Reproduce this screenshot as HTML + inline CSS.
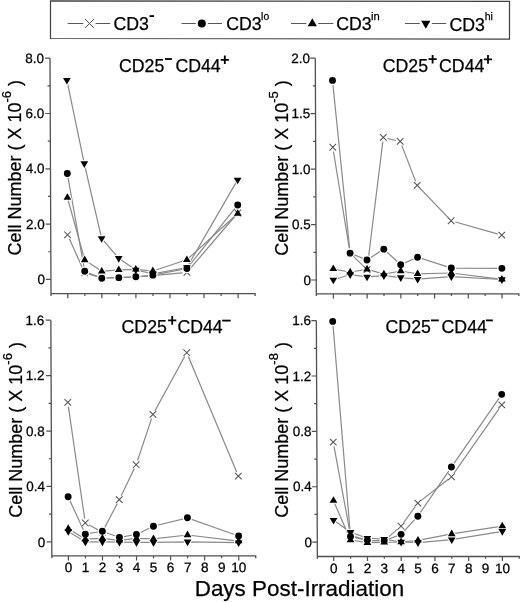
<!DOCTYPE html><html><head><meta charset="utf-8"><style>html,body{margin:0;padding:0;background:#fff;}svg{display:block;will-change:transform;}text{font-family:"Liberation Sans", sans-serif;fill:#000;stroke:#000;stroke-width:0.25px;}</style></head><body>
<svg width="520" height="602" viewBox="0 0 520 602">
<rect width="520" height="602" fill="#fff"/>
<path d="M50.5,0.9 L509.5,1.4 L509.5,39.1 L50.5,38.5 Z" fill="none" stroke="#404040" stroke-width="1.2"/>
<path d="M67.7,23.5 H83.50 M95.50,23.5 H110.2" stroke="#5a5a5a" stroke-width="1.1" fill="none"/>
<circle cx="89.50" cy="23.50" r="5.81" fill="#fff"/><path d="M85.14,19.14 L93.86,27.86 M93.86,19.14 L85.14,27.86" stroke="#505050" stroke-width="1.0" fill="none"/>
<text x="113.5" y="29.7" font-size="17.7" stroke="#000" stroke-width="0.3">CD3</text>
<rect x="149.5" y="15.200000000000001" width="4.6" height="1.8" fill="#000"/>
<path d="M181.5,23.5 H195.80 M207.80,23.5 H222.0" stroke="#5a5a5a" stroke-width="1.1" fill="none"/>
<circle cx="201.80" cy="23.50" r="4.04" fill="#fff" stroke="#fff" stroke-width="2.6"/><circle cx="201.80" cy="23.50" r="4.04" fill="#000"/>
<text x="226.2" y="30.0" font-size="17.7" stroke="#000" stroke-width="0.3">CD3</text>
<text x="261.1" y="19.8" font-size="11" textLength="8.0" lengthAdjust="spacingAndGlyphs" stroke="#000" stroke-width="0.2">lo</text>
<path d="M291.0,23.5 H306.30 M318.30,23.5 H333.3" stroke="#5a5a5a" stroke-width="1.1" fill="none"/>
<path d="M312.30,18.22 L316.92,26.14 L307.68,26.14 Z" fill="#fff" stroke="#fff" stroke-width="2.0" stroke-linejoin="round"/><path d="M312.30,18.22 L316.92,26.14 L307.68,26.14 Z" fill="#000"/>
<text x="336.2" y="30.2" font-size="17.7" stroke="#000" stroke-width="0.3">CD3</text>
<text x="371.0" y="20.0" font-size="11" textLength="8.7" lengthAdjust="spacingAndGlyphs" stroke="#000" stroke-width="0.2">in</text>
<path d="M405.0,23.5 H419.80 M431.80,23.5 H446.2" stroke="#5a5a5a" stroke-width="1.1" fill="none"/>
<path d="M421.18,20.86 L430.42,20.86 L425.80,28.78 Z" fill="#fff" stroke="#fff" stroke-width="2.0" stroke-linejoin="round"/><path d="M421.18,20.86 L430.42,20.86 L425.80,28.78 Z" fill="#000"/>
<text x="449.5" y="30.5" font-size="17.7" stroke="#000" stroke-width="0.3">CD3</text>
<text x="484.7" y="20.2" font-size="11" textLength="8.2" lengthAdjust="spacingAndGlyphs" stroke="#000" stroke-width="0.2">hi</text>
<g transform="translate(-0.745,0) skewX(0.2428)">
<path d="M50.5,58.2 V295.90000000000003 M49.9,293.6 H254.63 V295.90000000000003" stroke="#505050" stroke-width="1.3" fill="none"/>
<line x1="45.5" y1="279.40" x2="50.5" y2="279.40" stroke="#505050" stroke-width="1.2"/>
<text x="44.60" y="284.10" font-size="13.5" text-anchor="end">0</text>
<line x1="47.9" y1="251.75" x2="50.5" y2="251.75" stroke="#505050" stroke-width="1.2"/>
<line x1="45.5" y1="224.10" x2="50.5" y2="224.10" stroke="#505050" stroke-width="1.2"/>
<text x="44.60" y="228.80" font-size="13.5" text-anchor="end">2.0</text>
<line x1="47.9" y1="196.45" x2="50.5" y2="196.45" stroke="#505050" stroke-width="1.2"/>
<line x1="45.5" y1="168.80" x2="50.5" y2="168.80" stroke="#505050" stroke-width="1.2"/>
<text x="44.60" y="173.50" font-size="13.5" text-anchor="end">4.0</text>
<line x1="47.9" y1="141.15" x2="50.5" y2="141.15" stroke="#505050" stroke-width="1.2"/>
<line x1="45.5" y1="113.50" x2="50.5" y2="113.50" stroke="#505050" stroke-width="1.2"/>
<text x="44.60" y="118.20" font-size="13.5" text-anchor="end">6.0</text>
<line x1="47.9" y1="85.85" x2="50.5" y2="85.85" stroke="#505050" stroke-width="1.2"/>
<line x1="45.5" y1="58.20" x2="50.5" y2="58.20" stroke="#505050" stroke-width="1.2"/>
<text x="44.60" y="62.90" font-size="13.5" text-anchor="end">8.0</text>
<line x1="67.30" y1="293.6" x2="67.30" y2="298.20000000000005" stroke="#505050" stroke-width="1.2"/>
<line x1="84.33" y1="293.6" x2="84.33" y2="295.90000000000003" stroke="#505050" stroke-width="1.2"/>
<line x1="101.36" y1="293.6" x2="101.36" y2="298.20000000000005" stroke="#505050" stroke-width="1.2"/>
<line x1="118.39" y1="293.6" x2="118.39" y2="295.90000000000003" stroke="#505050" stroke-width="1.2"/>
<line x1="135.42" y1="293.6" x2="135.42" y2="298.20000000000005" stroke="#505050" stroke-width="1.2"/>
<line x1="152.45" y1="293.6" x2="152.45" y2="295.90000000000003" stroke="#505050" stroke-width="1.2"/>
<line x1="169.48" y1="293.6" x2="169.48" y2="298.20000000000005" stroke="#505050" stroke-width="1.2"/>
<line x1="186.51" y1="293.6" x2="186.51" y2="295.90000000000003" stroke="#505050" stroke-width="1.2"/>
<line x1="203.54" y1="293.6" x2="203.54" y2="298.20000000000005" stroke="#505050" stroke-width="1.2"/>
<line x1="220.57" y1="293.6" x2="220.57" y2="295.90000000000003" stroke="#505050" stroke-width="1.2"/>
<line x1="237.60" y1="293.6" x2="237.60" y2="298.20000000000005" stroke="#505050" stroke-width="1.2"/>
<polyline points="67.30,234.82 84.33,272.95 101.36,277.92 118.39,277.64 135.42,276.81 152.45,275.71 186.51,272.39 237.60,213.00" fill="none" stroke="#8a8a8a" stroke-width="1.2"/>
<polyline points="67.30,173.50 84.33,271.29 101.36,278.19 118.39,277.64 135.42,276.81 152.45,275.16 186.51,268.53 237.60,204.99" fill="none" stroke="#8a8a8a" stroke-width="1.2"/>
<polyline points="67.30,197.53 84.33,259.96 101.36,271.29 118.39,269.91 135.42,269.36 152.45,271.01 186.51,259.80 237.60,213.55" fill="none" stroke="#8a8a8a" stroke-width="1.2"/>
<polyline points="67.30,80.12 84.33,163.55 101.36,238.42 118.39,258.31 135.42,269.91 152.45,273.78 186.51,267.50 237.60,179.85" fill="none" stroke="#8a8a8a" stroke-width="1.2"/>
<circle cx="67.30" cy="234.82" r="4.40" fill="#fff"/>
<circle cx="84.33" cy="272.95" r="4.40" fill="#fff"/>
<circle cx="101.36" cy="277.92" r="4.40" fill="#fff"/>
<circle cx="118.39" cy="277.64" r="4.40" fill="#fff"/>
<circle cx="135.42" cy="276.81" r="4.40" fill="#fff"/>
<circle cx="152.45" cy="275.71" r="4.40" fill="#fff"/>
<circle cx="186.51" cy="272.39" r="4.40" fill="#fff"/>
<circle cx="237.60" cy="213.00" r="4.40" fill="#fff"/>
<path d="M67.30,193.13 L71.15,199.73 L63.45,199.73 Z" fill="#fff" stroke="#fff" stroke-width="2.0" stroke-linejoin="round"/>
<path d="M84.33,255.56 L88.18,262.16 L80.48,262.16 Z" fill="#fff" stroke="#fff" stroke-width="2.0" stroke-linejoin="round"/>
<path d="M101.36,266.89 L105.21,273.49 L97.51,273.49 Z" fill="#fff" stroke="#fff" stroke-width="2.0" stroke-linejoin="round"/>
<path d="M118.39,265.51 L122.24,272.11 L114.54,272.11 Z" fill="#fff" stroke="#fff" stroke-width="2.0" stroke-linejoin="round"/>
<path d="M135.42,264.96 L139.27,271.56 L131.57,271.56 Z" fill="#fff" stroke="#fff" stroke-width="2.0" stroke-linejoin="round"/>
<path d="M152.45,266.61 L156.30,273.21 L148.60,273.21 Z" fill="#fff" stroke="#fff" stroke-width="2.0" stroke-linejoin="round"/>
<path d="M186.51,255.40 L190.36,262.00 L182.66,262.00 Z" fill="#fff" stroke="#fff" stroke-width="2.0" stroke-linejoin="round"/>
<path d="M237.60,209.15 L241.45,215.75 L233.75,215.75 Z" fill="#fff" stroke="#fff" stroke-width="2.0" stroke-linejoin="round"/>
<path d="M63.45,77.92 L71.15,77.92 L67.30,84.52 Z" fill="#fff" stroke="#fff" stroke-width="2.0" stroke-linejoin="round"/>
<path d="M80.48,161.35 L88.18,161.35 L84.33,167.95 Z" fill="#fff" stroke="#fff" stroke-width="2.0" stroke-linejoin="round"/>
<path d="M97.51,236.22 L105.21,236.22 L101.36,242.82 Z" fill="#fff" stroke="#fff" stroke-width="2.0" stroke-linejoin="round"/>
<path d="M114.54,256.11 L122.24,256.11 L118.39,262.70 Z" fill="#fff" stroke="#fff" stroke-width="2.0" stroke-linejoin="round"/>
<path d="M131.57,267.71 L139.27,267.71 L135.42,274.31 Z" fill="#fff" stroke="#fff" stroke-width="2.0" stroke-linejoin="round"/>
<path d="M148.60,271.58 L156.30,271.58 L152.45,278.18 Z" fill="#fff" stroke="#fff" stroke-width="2.0" stroke-linejoin="round"/>
<path d="M182.66,265.30 L190.36,265.30 L186.51,271.90 Z" fill="#fff" stroke="#fff" stroke-width="2.0" stroke-linejoin="round"/>
<path d="M233.75,177.65 L241.45,177.65 L237.60,184.25 Z" fill="#fff" stroke="#fff" stroke-width="2.0" stroke-linejoin="round"/>
<path d="M64.00,231.52 L70.60,238.12 M70.60,231.52 L64.00,238.12" stroke="#505050" stroke-width="1.0" fill="none"/>
<path d="M81.03,269.65 L87.63,276.25 M87.63,269.65 L81.03,276.25" stroke="#505050" stroke-width="1.0" fill="none"/>
<path d="M98.06,274.62 L104.66,281.22 M104.66,274.62 L98.06,281.22" stroke="#505050" stroke-width="1.0" fill="none"/>
<path d="M115.09,274.34 L121.69,280.94 M121.69,274.34 L115.09,280.94" stroke="#505050" stroke-width="1.0" fill="none"/>
<path d="M132.12,273.51 L138.72,280.11 M138.72,273.51 L132.12,280.11" stroke="#505050" stroke-width="1.0" fill="none"/>
<path d="M149.15,272.41 L155.75,279.01 M155.75,272.41 L149.15,279.01" stroke="#505050" stroke-width="1.0" fill="none"/>
<path d="M183.21,269.09 L189.81,275.69 M189.81,269.09 L183.21,275.69" stroke="#505050" stroke-width="1.0" fill="none"/>
<path d="M234.30,209.70 L240.90,216.30 M240.90,209.70 L234.30,216.30" stroke="#505050" stroke-width="1.0" fill="none"/>
<circle cx="67.30" cy="173.50" r="3.45" fill="#fff" stroke="#fff" stroke-width="2.6"/>
<circle cx="84.33" cy="271.29" r="3.45" fill="#fff" stroke="#fff" stroke-width="2.6"/>
<circle cx="101.36" cy="278.19" r="3.45" fill="#fff" stroke="#fff" stroke-width="2.6"/>
<circle cx="118.39" cy="277.64" r="3.45" fill="#fff" stroke="#fff" stroke-width="2.6"/>
<circle cx="135.42" cy="276.81" r="3.45" fill="#fff" stroke="#fff" stroke-width="2.6"/>
<circle cx="152.45" cy="275.16" r="3.45" fill="#fff" stroke="#fff" stroke-width="2.6"/>
<circle cx="186.51" cy="268.53" r="3.45" fill="#fff" stroke="#fff" stroke-width="2.6"/>
<circle cx="237.60" cy="204.99" r="3.45" fill="#fff" stroke="#fff" stroke-width="2.6"/>
<circle cx="67.30" cy="173.50" r="3.45" fill="#000"/>
<circle cx="84.33" cy="271.29" r="3.45" fill="#000"/>
<circle cx="101.36" cy="278.19" r="3.45" fill="#000"/>
<circle cx="118.39" cy="277.64" r="3.45" fill="#000"/>
<circle cx="135.42" cy="276.81" r="3.45" fill="#000"/>
<circle cx="152.45" cy="275.16" r="3.45" fill="#000"/>
<circle cx="186.51" cy="268.53" r="3.45" fill="#000"/>
<circle cx="237.60" cy="204.99" r="3.45" fill="#000"/>
<path d="M67.30,193.13 L71.15,199.73 L63.45,199.73 Z" fill="#000"/>
<path d="M84.33,255.56 L88.18,262.16 L80.48,262.16 Z" fill="#000"/>
<path d="M101.36,266.89 L105.21,273.49 L97.51,273.49 Z" fill="#000"/>
<path d="M118.39,265.51 L122.24,272.11 L114.54,272.11 Z" fill="#000"/>
<path d="M135.42,264.96 L139.27,271.56 L131.57,271.56 Z" fill="#000"/>
<path d="M152.45,266.61 L156.30,273.21 L148.60,273.21 Z" fill="#000"/>
<path d="M186.51,255.40 L190.36,262.00 L182.66,262.00 Z" fill="#000"/>
<path d="M237.60,209.15 L241.45,215.75 L233.75,215.75 Z" fill="#000"/>
<path d="M63.45,77.92 L71.15,77.92 L67.30,84.52 Z" fill="#000"/>
<path d="M80.48,161.35 L88.18,161.35 L84.33,167.95 Z" fill="#000"/>
<path d="M97.51,236.22 L105.21,236.22 L101.36,242.82 Z" fill="#000"/>
<path d="M114.54,256.11 L122.24,256.11 L118.39,262.70 Z" fill="#000"/>
<path d="M131.57,267.71 L139.27,267.71 L135.42,274.31 Z" fill="#000"/>
<path d="M148.60,271.58 L156.30,271.58 L152.45,278.18 Z" fill="#000"/>
<path d="M182.66,265.30 L190.36,265.30 L186.51,271.90 Z" fill="#000"/>
<path d="M233.75,177.65 L241.45,177.65 L237.60,184.25 Z" fill="#000"/>
</g>
<text x="119.00" y="71.9" font-size="17.7">CD25</text>
<rect x="165.0" y="58.10" width="6.90" height="1.8" fill="#000"/>
<text x="175.40" y="71.9" font-size="17.7">CD44</text>
<path d="M220.70,59.80 H228.90 M224.80,55.50 V64.10" stroke="#000" stroke-width="1.8" fill="none"/>
<text transform="translate(21.2,255.6) rotate(-90)" font-size="18">Cell Number ( X 10<tspan font-size="13" dy="-10.3">-6</tspan><tspan dy="10.3"> )</tspan></text>
<g transform="translate(-0.746,0) skewX(0.2428)">
<path d="M315.8,58.2 V296.1 M315.2,293.8 H518.3599999999999 V296.1" stroke="#505050" stroke-width="1.3" fill="none"/>
<line x1="310.8" y1="280.00" x2="315.8" y2="280.00" stroke="#505050" stroke-width="1.2"/>
<text x="310.50" y="284.70" font-size="13.5" text-anchor="end">0</text>
<line x1="313.2" y1="252.28" x2="315.8" y2="252.28" stroke="#505050" stroke-width="1.2"/>
<line x1="310.8" y1="224.55" x2="315.8" y2="224.55" stroke="#505050" stroke-width="1.2"/>
<text x="310.50" y="229.25" font-size="13.5" text-anchor="end">0.5</text>
<line x1="313.2" y1="196.83" x2="315.8" y2="196.83" stroke="#505050" stroke-width="1.2"/>
<line x1="310.8" y1="169.10" x2="315.8" y2="169.10" stroke="#505050" stroke-width="1.2"/>
<text x="310.50" y="173.80" font-size="13.5" text-anchor="end">1.0</text>
<line x1="313.2" y1="141.38" x2="315.8" y2="141.38" stroke="#505050" stroke-width="1.2"/>
<line x1="310.8" y1="113.65" x2="315.8" y2="113.65" stroke="#505050" stroke-width="1.2"/>
<text x="310.50" y="118.35" font-size="13.5" text-anchor="end">1.5</text>
<line x1="313.2" y1="85.92" x2="315.8" y2="85.92" stroke="#505050" stroke-width="1.2"/>
<line x1="310.8" y1="58.20" x2="315.8" y2="58.20" stroke="#505050" stroke-width="1.2"/>
<text x="310.50" y="62.90" font-size="13.5" text-anchor="end">2.0</text>
<line x1="332.90" y1="293.8" x2="332.90" y2="298.40000000000003" stroke="#505050" stroke-width="1.2"/>
<line x1="349.76" y1="293.8" x2="349.76" y2="296.1" stroke="#505050" stroke-width="1.2"/>
<line x1="366.62" y1="293.8" x2="366.62" y2="298.40000000000003" stroke="#505050" stroke-width="1.2"/>
<line x1="383.48" y1="293.8" x2="383.48" y2="296.1" stroke="#505050" stroke-width="1.2"/>
<line x1="400.34" y1="293.8" x2="400.34" y2="298.40000000000003" stroke="#505050" stroke-width="1.2"/>
<line x1="417.20" y1="293.8" x2="417.20" y2="296.1" stroke="#505050" stroke-width="1.2"/>
<line x1="434.06" y1="293.8" x2="434.06" y2="298.40000000000003" stroke="#505050" stroke-width="1.2"/>
<line x1="450.92" y1="293.8" x2="450.92" y2="296.1" stroke="#505050" stroke-width="1.2"/>
<line x1="467.78" y1="293.8" x2="467.78" y2="298.40000000000003" stroke="#505050" stroke-width="1.2"/>
<line x1="484.64" y1="293.8" x2="484.64" y2="296.1" stroke="#505050" stroke-width="1.2"/>
<line x1="501.50" y1="293.8" x2="501.50" y2="298.40000000000003" stroke="#505050" stroke-width="1.2"/>
<polyline points="332.90,147.25 349.76,253.11 366.62,269.58 383.48,137.42 400.34,141.40 417.20,185.38 450.92,220.74 501.50,235.10" fill="none" stroke="#8a8a8a" stroke-width="1.2"/>
<polyline points="332.90,80.40 349.76,253.11 366.62,259.96 383.48,249.13 400.34,264.71 417.20,257.20 450.92,268.03 501.50,268.36" fill="none" stroke="#8a8a8a" stroke-width="1.2"/>
<polyline points="332.90,268.91 349.76,272.23 366.62,269.24 383.48,274.11 400.34,271.01 417.20,273.78 450.92,273.00 501.50,279.30" fill="none" stroke="#8a8a8a" stroke-width="1.2"/>
<polyline points="332.90,279.96 349.76,274.55 366.62,276.87 383.48,275.54 400.34,277.53 417.20,279.19 450.92,276.65 501.50,279.52" fill="none" stroke="#8a8a8a" stroke-width="1.2"/>
<circle cx="332.90" cy="147.25" r="4.40" fill="#fff"/>
<circle cx="349.76" cy="253.11" r="4.40" fill="#fff"/>
<circle cx="366.62" cy="269.58" r="4.40" fill="#fff"/>
<circle cx="383.48" cy="137.42" r="4.40" fill="#fff"/>
<circle cx="400.34" cy="141.40" r="4.40" fill="#fff"/>
<circle cx="417.20" cy="185.38" r="4.40" fill="#fff"/>
<circle cx="450.92" cy="220.74" r="4.40" fill="#fff"/>
<circle cx="501.50" cy="235.10" r="4.40" fill="#fff"/>
<path d="M332.90,264.51 L336.75,271.11 L329.05,271.11 Z" fill="#fff" stroke="#fff" stroke-width="2.0" stroke-linejoin="round"/>
<path d="M349.76,267.83 L353.61,274.43 L345.91,274.43 Z" fill="#fff" stroke="#fff" stroke-width="2.0" stroke-linejoin="round"/>
<path d="M366.62,264.84 L370.47,271.44 L362.77,271.44 Z" fill="#fff" stroke="#fff" stroke-width="2.0" stroke-linejoin="round"/>
<path d="M383.48,269.71 L387.33,276.31 L379.63,276.31 Z" fill="#fff" stroke="#fff" stroke-width="2.0" stroke-linejoin="round"/>
<path d="M400.34,266.61 L404.19,273.21 L396.49,273.21 Z" fill="#fff" stroke="#fff" stroke-width="2.0" stroke-linejoin="round"/>
<path d="M417.20,269.38 L421.05,275.98 L413.35,275.98 Z" fill="#fff" stroke="#fff" stroke-width="2.0" stroke-linejoin="round"/>
<path d="M450.92,268.60 L454.77,275.20 L447.07,275.20 Z" fill="#fff" stroke="#fff" stroke-width="2.0" stroke-linejoin="round"/>
<path d="M501.50,274.90 L505.35,281.50 L497.65,281.50 Z" fill="#fff" stroke="#fff" stroke-width="2.0" stroke-linejoin="round"/>
<path d="M329.05,277.76 L336.75,277.76 L332.90,284.36 Z" fill="#fff" stroke="#fff" stroke-width="2.0" stroke-linejoin="round"/>
<path d="M345.91,272.35 L353.61,272.35 L349.76,278.95 Z" fill="#fff" stroke="#fff" stroke-width="2.0" stroke-linejoin="round"/>
<path d="M362.77,274.67 L370.47,274.67 L366.62,281.27 Z" fill="#fff" stroke="#fff" stroke-width="2.0" stroke-linejoin="round"/>
<path d="M379.63,273.34 L387.33,273.34 L383.48,279.94 Z" fill="#fff" stroke="#fff" stroke-width="2.0" stroke-linejoin="round"/>
<path d="M396.49,275.33 L404.19,275.33 L400.34,281.93 Z" fill="#fff" stroke="#fff" stroke-width="2.0" stroke-linejoin="round"/>
<path d="M413.35,276.99 L421.05,276.99 L417.20,283.59 Z" fill="#fff" stroke="#fff" stroke-width="2.0" stroke-linejoin="round"/>
<path d="M447.07,274.45 L454.77,274.45 L450.92,281.05 Z" fill="#fff" stroke="#fff" stroke-width="2.0" stroke-linejoin="round"/>
<path d="M497.65,277.32 L505.35,277.32 L501.50,283.92 Z" fill="#fff" stroke="#fff" stroke-width="2.0" stroke-linejoin="round"/>
<path d="M329.60,143.95 L336.20,150.55 M336.20,143.95 L329.60,150.55" stroke="#505050" stroke-width="1.0" fill="none"/>
<path d="M346.46,249.81 L353.06,256.41 M353.06,249.81 L346.46,256.41" stroke="#505050" stroke-width="1.0" fill="none"/>
<path d="M363.32,266.28 L369.92,272.88 M369.92,266.28 L363.32,272.88" stroke="#505050" stroke-width="1.0" fill="none"/>
<path d="M380.18,134.12 L386.78,140.72 M386.78,134.12 L380.18,140.72" stroke="#505050" stroke-width="1.0" fill="none"/>
<path d="M397.04,138.10 L403.64,144.70 M403.64,138.10 L397.04,144.70" stroke="#505050" stroke-width="1.0" fill="none"/>
<path d="M413.90,182.07 L420.50,188.68 M420.50,182.07 L413.90,188.68" stroke="#505050" stroke-width="1.0" fill="none"/>
<path d="M447.62,217.44 L454.22,224.04 M454.22,217.44 L447.62,224.04" stroke="#505050" stroke-width="1.0" fill="none"/>
<path d="M498.20,231.80 L504.80,238.40 M504.80,231.80 L498.20,238.40" stroke="#505050" stroke-width="1.0" fill="none"/>
<circle cx="332.90" cy="80.40" r="3.45" fill="#fff" stroke="#fff" stroke-width="2.6"/>
<circle cx="349.76" cy="253.11" r="3.45" fill="#fff" stroke="#fff" stroke-width="2.6"/>
<circle cx="366.62" cy="259.96" r="3.45" fill="#fff" stroke="#fff" stroke-width="2.6"/>
<circle cx="383.48" cy="249.13" r="3.45" fill="#fff" stroke="#fff" stroke-width="2.6"/>
<circle cx="400.34" cy="264.71" r="3.45" fill="#fff" stroke="#fff" stroke-width="2.6"/>
<circle cx="417.20" cy="257.20" r="3.45" fill="#fff" stroke="#fff" stroke-width="2.6"/>
<circle cx="450.92" cy="268.03" r="3.45" fill="#fff" stroke="#fff" stroke-width="2.6"/>
<circle cx="501.50" cy="268.36" r="3.45" fill="#fff" stroke="#fff" stroke-width="2.6"/>
<circle cx="332.90" cy="80.40" r="3.45" fill="#000"/>
<circle cx="349.76" cy="253.11" r="3.45" fill="#000"/>
<circle cx="366.62" cy="259.96" r="3.45" fill="#000"/>
<circle cx="383.48" cy="249.13" r="3.45" fill="#000"/>
<circle cx="400.34" cy="264.71" r="3.45" fill="#000"/>
<circle cx="417.20" cy="257.20" r="3.45" fill="#000"/>
<circle cx="450.92" cy="268.03" r="3.45" fill="#000"/>
<circle cx="501.50" cy="268.36" r="3.45" fill="#000"/>
<path d="M332.90,264.51 L336.75,271.11 L329.05,271.11 Z" fill="#000"/>
<path d="M349.76,267.83 L353.61,274.43 L345.91,274.43 Z" fill="#000"/>
<path d="M366.62,264.84 L370.47,271.44 L362.77,271.44 Z" fill="#000"/>
<path d="M383.48,269.71 L387.33,276.31 L379.63,276.31 Z" fill="#000"/>
<path d="M400.34,266.61 L404.19,273.21 L396.49,273.21 Z" fill="#000"/>
<path d="M417.20,269.38 L421.05,275.98 L413.35,275.98 Z" fill="#000"/>
<path d="M450.92,268.60 L454.77,275.20 L447.07,275.20 Z" fill="#000"/>
<path d="M501.50,274.90 L505.35,281.50 L497.65,281.50 Z" fill="#000"/>
<path d="M329.05,277.76 L336.75,277.76 L332.90,284.36 Z" fill="#000"/>
<path d="M345.91,272.35 L353.61,272.35 L349.76,278.95 Z" fill="#000"/>
<path d="M362.77,274.67 L370.47,274.67 L366.62,281.27 Z" fill="#000"/>
<path d="M379.63,273.34 L387.33,273.34 L383.48,279.94 Z" fill="#000"/>
<path d="M396.49,275.33 L404.19,275.33 L400.34,281.93 Z" fill="#000"/>
<path d="M413.35,276.99 L421.05,276.99 L417.20,283.59 Z" fill="#000"/>
<path d="M447.07,274.45 L454.77,274.45 L450.92,281.05 Z" fill="#000"/>
<path d="M497.65,277.32 L505.35,277.32 L501.50,283.92 Z" fill="#000"/>
</g>
<text x="382.80" y="72.0" font-size="17.7">CD25</text>
<path d="M428.50,59.20 H436.70 M432.60,54.90 V63.50" stroke="#000" stroke-width="1.8" fill="none"/>
<text x="439.10" y="72.0" font-size="17.7">CD44</text>
<path d="M483.90,59.40 H492.10 M488.00,55.10 V63.70" stroke="#000" stroke-width="1.8" fill="none"/>
<text transform="translate(287.9,255.8) rotate(-90)" font-size="18">Cell Number ( X 10<tspan font-size="13" dy="-10.3">-5</tspan><tspan dy="10.3"> )</tspan></text>
<g transform="translate(-1.856,0) skewX(0.2428)">
<path d="M51.35,320.2 V558.1999999999999 M50.75,555.9 H255.23000000000002 V558.1999999999999" stroke="#505050" stroke-width="1.3" fill="none"/>
<line x1="46.35" y1="541.90" x2="51.35" y2="541.90" stroke="#505050" stroke-width="1.2"/>
<text x="44.85" y="546.60" font-size="13.5" text-anchor="end">0</text>
<line x1="48.75" y1="514.19" x2="51.35" y2="514.19" stroke="#505050" stroke-width="1.2"/>
<line x1="46.35" y1="486.47" x2="51.35" y2="486.47" stroke="#505050" stroke-width="1.2"/>
<text x="44.85" y="491.17" font-size="13.5" text-anchor="end">0.4</text>
<line x1="48.75" y1="458.76" x2="51.35" y2="458.76" stroke="#505050" stroke-width="1.2"/>
<line x1="46.35" y1="431.05" x2="51.35" y2="431.05" stroke="#505050" stroke-width="1.2"/>
<text x="44.85" y="435.75" font-size="13.5" text-anchor="end">0.8</text>
<line x1="48.75" y1="403.34" x2="51.35" y2="403.34" stroke="#505050" stroke-width="1.2"/>
<line x1="46.35" y1="375.62" x2="51.35" y2="375.62" stroke="#505050" stroke-width="1.2"/>
<text x="44.85" y="380.32" font-size="13.5" text-anchor="end">1.2</text>
<line x1="48.75" y1="347.91" x2="51.35" y2="347.91" stroke="#505050" stroke-width="1.2"/>
<line x1="46.35" y1="320.20" x2="51.35" y2="320.20" stroke="#505050" stroke-width="1.2"/>
<text x="44.85" y="324.90" font-size="13.5" text-anchor="end">1.6</text>
<line x1="67.90" y1="555.9" x2="67.90" y2="560.5" stroke="#505050" stroke-width="1.2"/>
<text x="67.90" y="572.1" font-size="13.6" text-anchor="middle">0</text>
<line x1="84.93" y1="555.9" x2="84.93" y2="558.1999999999999" stroke="#505050" stroke-width="1.2"/>
<text x="84.93" y="572.1" font-size="13.6" text-anchor="middle">1</text>
<line x1="101.96" y1="555.9" x2="101.96" y2="560.5" stroke="#505050" stroke-width="1.2"/>
<text x="101.96" y="572.1" font-size="13.6" text-anchor="middle">2</text>
<line x1="118.99" y1="555.9" x2="118.99" y2="558.1999999999999" stroke="#505050" stroke-width="1.2"/>
<text x="118.99" y="572.1" font-size="13.6" text-anchor="middle">3</text>
<line x1="136.02" y1="555.9" x2="136.02" y2="560.5" stroke="#505050" stroke-width="1.2"/>
<text x="136.02" y="572.1" font-size="13.6" text-anchor="middle">4</text>
<line x1="153.05" y1="555.9" x2="153.05" y2="558.1999999999999" stroke="#505050" stroke-width="1.2"/>
<text x="153.05" y="572.1" font-size="13.6" text-anchor="middle">5</text>
<line x1="170.08" y1="555.9" x2="170.08" y2="560.5" stroke="#505050" stroke-width="1.2"/>
<text x="170.08" y="572.1" font-size="13.6" text-anchor="middle">6</text>
<line x1="187.11" y1="555.9" x2="187.11" y2="558.1999999999999" stroke="#505050" stroke-width="1.2"/>
<text x="187.11" y="572.1" font-size="13.6" text-anchor="middle">7</text>
<line x1="204.14" y1="555.9" x2="204.14" y2="560.5" stroke="#505050" stroke-width="1.2"/>
<text x="204.14" y="572.1" font-size="13.6" text-anchor="middle">8</text>
<line x1="221.17" y1="555.9" x2="221.17" y2="558.1999999999999" stroke="#505050" stroke-width="1.2"/>
<text x="221.17" y="572.1" font-size="13.6" text-anchor="middle">9</text>
<line x1="238.20" y1="555.9" x2="238.20" y2="560.5" stroke="#505050" stroke-width="1.2"/>
<text x="238.20" y="572.1" font-size="13.6" text-anchor="middle">10</text>
<polyline points="67.90,402.34 84.93,522.95 101.96,532.10 118.99,499.66 136.02,464.72 153.05,414.40 187.11,352.72 238.20,476.09" fill="none" stroke="#8a8a8a" stroke-width="1.2"/>
<polyline points="67.90,496.75 84.93,534.18 101.96,531.26 118.99,537.50 136.02,534.45 153.05,526.27 187.11,517.82 238.20,535.98" fill="none" stroke="#8a8a8a" stroke-width="1.2"/>
<polyline points="67.90,528.77 84.93,539.03 101.96,538.33 118.99,540.41 136.02,538.47 153.05,538.89 187.11,535.01 238.20,541.11" fill="none" stroke="#8a8a8a" stroke-width="1.2"/>
<polyline points="67.90,531.40 84.93,541.94 101.96,541.80 118.99,542.08 136.02,542.35 153.05,542.35 187.11,541.80 238.20,542.63" fill="none" stroke="#8a8a8a" stroke-width="1.2"/>
<circle cx="67.90" cy="402.34" r="4.40" fill="#fff"/>
<circle cx="84.93" cy="522.95" r="4.40" fill="#fff"/>
<circle cx="101.96" cy="532.10" r="4.40" fill="#fff"/>
<circle cx="118.99" cy="499.66" r="4.40" fill="#fff"/>
<circle cx="136.02" cy="464.72" r="4.40" fill="#fff"/>
<circle cx="153.05" cy="414.40" r="4.40" fill="#fff"/>
<circle cx="187.11" cy="352.72" r="4.40" fill="#fff"/>
<circle cx="238.20" cy="476.09" r="4.40" fill="#fff"/>
<path d="M67.90,524.37 L71.75,530.97 L64.05,530.97 Z" fill="#fff" stroke="#fff" stroke-width="2.0" stroke-linejoin="round"/>
<path d="M84.93,534.63 L88.78,541.23 L81.08,541.23 Z" fill="#fff" stroke="#fff" stroke-width="2.0" stroke-linejoin="round"/>
<path d="M101.96,533.93 L105.81,540.53 L98.11,540.53 Z" fill="#fff" stroke="#fff" stroke-width="2.0" stroke-linejoin="round"/>
<path d="M118.99,536.01 L122.84,542.61 L115.14,542.61 Z" fill="#fff" stroke="#fff" stroke-width="2.0" stroke-linejoin="round"/>
<path d="M136.02,534.07 L139.87,540.67 L132.17,540.67 Z" fill="#fff" stroke="#fff" stroke-width="2.0" stroke-linejoin="round"/>
<path d="M153.05,534.49 L156.90,541.09 L149.20,541.09 Z" fill="#fff" stroke="#fff" stroke-width="2.0" stroke-linejoin="round"/>
<path d="M187.11,530.61 L190.96,537.21 L183.26,537.21 Z" fill="#fff" stroke="#fff" stroke-width="2.0" stroke-linejoin="round"/>
<path d="M238.20,536.71 L242.05,543.31 L234.35,543.31 Z" fill="#fff" stroke="#fff" stroke-width="2.0" stroke-linejoin="round"/>
<path d="M64.05,529.20 L71.75,529.20 L67.90,535.80 Z" fill="#fff" stroke="#fff" stroke-width="2.0" stroke-linejoin="round"/>
<path d="M81.08,539.74 L88.78,539.74 L84.93,546.34 Z" fill="#fff" stroke="#fff" stroke-width="2.0" stroke-linejoin="round"/>
<path d="M98.11,539.60 L105.81,539.60 L101.96,546.20 Z" fill="#fff" stroke="#fff" stroke-width="2.0" stroke-linejoin="round"/>
<path d="M115.14,539.88 L122.84,539.88 L118.99,546.48 Z" fill="#fff" stroke="#fff" stroke-width="2.0" stroke-linejoin="round"/>
<path d="M132.17,540.15 L139.87,540.15 L136.02,546.75 Z" fill="#fff" stroke="#fff" stroke-width="2.0" stroke-linejoin="round"/>
<path d="M149.20,540.15 L156.90,540.15 L153.05,546.75 Z" fill="#fff" stroke="#fff" stroke-width="2.0" stroke-linejoin="round"/>
<path d="M183.26,539.60 L190.96,539.60 L187.11,546.20 Z" fill="#fff" stroke="#fff" stroke-width="2.0" stroke-linejoin="round"/>
<path d="M234.35,540.43 L242.05,540.43 L238.20,547.03 Z" fill="#fff" stroke="#fff" stroke-width="2.0" stroke-linejoin="round"/>
<path d="M64.60,399.04 L71.20,405.64 M71.20,399.04 L64.60,405.64" stroke="#505050" stroke-width="1.0" fill="none"/>
<path d="M81.63,519.65 L88.23,526.25 M88.23,519.65 L81.63,526.25" stroke="#505050" stroke-width="1.0" fill="none"/>
<path d="M98.66,528.80 L105.26,535.40 M105.26,528.80 L98.66,535.40" stroke="#505050" stroke-width="1.0" fill="none"/>
<path d="M115.69,496.36 L122.29,502.96 M122.29,496.36 L115.69,502.96" stroke="#505050" stroke-width="1.0" fill="none"/>
<path d="M132.72,461.42 L139.32,468.02 M139.32,461.42 L132.72,468.02" stroke="#505050" stroke-width="1.0" fill="none"/>
<path d="M149.75,411.10 L156.35,417.70 M156.35,411.10 L149.75,417.70" stroke="#505050" stroke-width="1.0" fill="none"/>
<path d="M183.81,349.42 L190.41,356.02 M190.41,349.42 L183.81,356.02" stroke="#505050" stroke-width="1.0" fill="none"/>
<path d="M234.90,472.79 L241.50,479.39 M241.50,472.79 L234.90,479.39" stroke="#505050" stroke-width="1.0" fill="none"/>
<circle cx="67.90" cy="496.75" r="3.45" fill="#fff" stroke="#fff" stroke-width="2.6"/>
<circle cx="84.93" cy="534.18" r="3.45" fill="#fff" stroke="#fff" stroke-width="2.6"/>
<circle cx="101.96" cy="531.26" r="3.45" fill="#fff" stroke="#fff" stroke-width="2.6"/>
<circle cx="118.99" cy="537.50" r="3.45" fill="#fff" stroke="#fff" stroke-width="2.6"/>
<circle cx="136.02" cy="534.45" r="3.45" fill="#fff" stroke="#fff" stroke-width="2.6"/>
<circle cx="153.05" cy="526.27" r="3.45" fill="#fff" stroke="#fff" stroke-width="2.6"/>
<circle cx="187.11" cy="517.82" r="3.45" fill="#fff" stroke="#fff" stroke-width="2.6"/>
<circle cx="238.20" cy="535.98" r="3.45" fill="#fff" stroke="#fff" stroke-width="2.6"/>
<circle cx="67.90" cy="496.75" r="3.45" fill="#000"/>
<circle cx="84.93" cy="534.18" r="3.45" fill="#000"/>
<circle cx="101.96" cy="531.26" r="3.45" fill="#000"/>
<circle cx="118.99" cy="537.50" r="3.45" fill="#000"/>
<circle cx="136.02" cy="534.45" r="3.45" fill="#000"/>
<circle cx="153.05" cy="526.27" r="3.45" fill="#000"/>
<circle cx="187.11" cy="517.82" r="3.45" fill="#000"/>
<circle cx="238.20" cy="535.98" r="3.45" fill="#000"/>
<path d="M67.90,524.37 L71.75,530.97 L64.05,530.97 Z" fill="#000"/>
<path d="M84.93,534.63 L88.78,541.23 L81.08,541.23 Z" fill="#000"/>
<path d="M101.96,533.93 L105.81,540.53 L98.11,540.53 Z" fill="#000"/>
<path d="M118.99,536.01 L122.84,542.61 L115.14,542.61 Z" fill="#000"/>
<path d="M136.02,534.07 L139.87,540.67 L132.17,540.67 Z" fill="#000"/>
<path d="M153.05,534.49 L156.90,541.09 L149.20,541.09 Z" fill="#000"/>
<path d="M187.11,530.61 L190.96,537.21 L183.26,537.21 Z" fill="#000"/>
<path d="M238.20,536.71 L242.05,543.31 L234.35,543.31 Z" fill="#000"/>
<path d="M64.05,529.20 L71.75,529.20 L67.90,535.80 Z" fill="#000"/>
<path d="M81.08,539.74 L88.78,539.74 L84.93,546.34 Z" fill="#000"/>
<path d="M98.11,539.60 L105.81,539.60 L101.96,546.20 Z" fill="#000"/>
<path d="M115.14,539.88 L122.84,539.88 L118.99,546.48 Z" fill="#000"/>
<path d="M132.17,540.15 L139.87,540.15 L136.02,546.75 Z" fill="#000"/>
<path d="M149.20,540.15 L156.90,540.15 L153.05,546.75 Z" fill="#000"/>
<path d="M183.26,539.60 L190.96,539.60 L187.11,546.20 Z" fill="#000"/>
<path d="M234.35,540.43 L242.05,540.43 L238.20,547.03 Z" fill="#000"/>
</g>
<text x="121.60" y="333.3" font-size="17.7">CD25</text>
<path d="M168.10,320.40 H176.30 M172.20,316.10 V324.70" stroke="#000" stroke-width="1.8" fill="none"/>
<text x="177.40" y="333.3" font-size="17.7">CD44</text>
<rect x="222.2" y="319.70" width="8.50" height="1.8" fill="#000"/>
<text transform="translate(21.9,517.7) rotate(-90)" font-size="18">Cell Number ( X 10<tspan font-size="13" dy="-10.3">-6</tspan><tspan dy="10.3"> )</tspan></text>
<g transform="translate(-1.858,0) skewX(0.2428)">
<path d="M316.85,320.6 V558.8 M316.25,556.5 H518.77 V558.8" stroke="#505050" stroke-width="1.3" fill="none"/>
<line x1="311.85" y1="542.10" x2="316.85" y2="542.10" stroke="#505050" stroke-width="1.2"/>
<text x="311.45" y="546.80" font-size="13.5" text-anchor="end">0</text>
<line x1="314.25" y1="514.41" x2="316.85" y2="514.41" stroke="#505050" stroke-width="1.2"/>
<line x1="311.85" y1="486.73" x2="316.85" y2="486.73" stroke="#505050" stroke-width="1.2"/>
<text x="311.45" y="491.43" font-size="13.5" text-anchor="end">0.4</text>
<line x1="314.25" y1="459.04" x2="316.85" y2="459.04" stroke="#505050" stroke-width="1.2"/>
<line x1="311.85" y1="431.35" x2="316.85" y2="431.35" stroke="#505050" stroke-width="1.2"/>
<text x="311.45" y="436.05" font-size="13.5" text-anchor="end">0.8</text>
<line x1="314.25" y1="403.66" x2="316.85" y2="403.66" stroke="#505050" stroke-width="1.2"/>
<line x1="311.85" y1="375.98" x2="316.85" y2="375.98" stroke="#505050" stroke-width="1.2"/>
<text x="311.45" y="380.68" font-size="13.5" text-anchor="end">1.2</text>
<line x1="314.25" y1="348.29" x2="316.85" y2="348.29" stroke="#505050" stroke-width="1.2"/>
<line x1="311.85" y1="320.60" x2="316.85" y2="320.60" stroke="#505050" stroke-width="1.2"/>
<text x="311.45" y="325.30" font-size="13.5" text-anchor="end">1.6</text>
<line x1="333.20" y1="556.5" x2="333.20" y2="561.1" stroke="#505050" stroke-width="1.2"/>
<text x="333.20" y="572.7" font-size="13.6" text-anchor="middle">0</text>
<line x1="350.07" y1="556.5" x2="350.07" y2="558.8" stroke="#505050" stroke-width="1.2"/>
<text x="350.07" y="572.7" font-size="13.6" text-anchor="middle">1</text>
<line x1="366.94" y1="556.5" x2="366.94" y2="561.1" stroke="#505050" stroke-width="1.2"/>
<text x="366.94" y="572.7" font-size="13.6" text-anchor="middle">2</text>
<line x1="383.81" y1="556.5" x2="383.81" y2="558.8" stroke="#505050" stroke-width="1.2"/>
<text x="383.81" y="572.7" font-size="13.6" text-anchor="middle">3</text>
<line x1="400.68" y1="556.5" x2="400.68" y2="561.1" stroke="#505050" stroke-width="1.2"/>
<text x="400.68" y="572.7" font-size="13.6" text-anchor="middle">4</text>
<line x1="417.55" y1="556.5" x2="417.55" y2="558.8" stroke="#505050" stroke-width="1.2"/>
<text x="417.55" y="572.7" font-size="13.6" text-anchor="middle">5</text>
<line x1="434.42" y1="556.5" x2="434.42" y2="561.1" stroke="#505050" stroke-width="1.2"/>
<text x="434.42" y="572.7" font-size="13.6" text-anchor="middle">6</text>
<line x1="451.29" y1="556.5" x2="451.29" y2="558.8" stroke="#505050" stroke-width="1.2"/>
<text x="451.29" y="572.7" font-size="13.6" text-anchor="middle">7</text>
<line x1="468.16" y1="556.5" x2="468.16" y2="561.1" stroke="#505050" stroke-width="1.2"/>
<text x="468.16" y="572.7" font-size="13.6" text-anchor="middle">8</text>
<line x1="485.03" y1="556.5" x2="485.03" y2="558.8" stroke="#505050" stroke-width="1.2"/>
<text x="485.03" y="572.7" font-size="13.6" text-anchor="middle">9</text>
<line x1="501.90" y1="556.5" x2="501.90" y2="561.1" stroke="#505050" stroke-width="1.2"/>
<text x="501.90" y="572.7" font-size="13.6" text-anchor="middle">10</text>
<polyline points="333.20,442.10 350.07,535.06 366.94,540.61 383.81,540.61 400.68,526.18 417.55,503.15 451.29,476.79 501.90,404.91" fill="none" stroke="#8a8a8a" stroke-width="1.2"/>
<polyline points="333.20,321.39 350.07,536.45 366.94,540.34 383.81,540.75 400.68,534.37 417.55,516.19 451.29,467.07 501.90,394.37" fill="none" stroke="#8a8a8a" stroke-width="1.2"/>
<polyline points="333.20,500.65 350.07,540.06 366.94,542.69 383.81,542.28 400.68,542.00 417.55,540.34 451.29,533.95 501.90,526.04" fill="none" stroke="#8a8a8a" stroke-width="1.2"/>
<polyline points="333.20,520.08 350.07,532.15 366.94,538.25 383.81,539.09 400.68,542.00 417.55,542.55 451.29,539.64 501.90,531.32" fill="none" stroke="#8a8a8a" stroke-width="1.2"/>
<circle cx="333.20" cy="442.10" r="4.40" fill="#fff"/>
<circle cx="350.07" cy="535.06" r="4.40" fill="#fff"/>
<circle cx="366.94" cy="540.61" r="4.40" fill="#fff"/>
<circle cx="383.81" cy="540.61" r="4.40" fill="#fff"/>
<circle cx="400.68" cy="526.18" r="4.40" fill="#fff"/>
<circle cx="417.55" cy="503.15" r="4.40" fill="#fff"/>
<circle cx="451.29" cy="476.79" r="4.40" fill="#fff"/>
<circle cx="501.90" cy="404.91" r="4.40" fill="#fff"/>
<path d="M333.20,496.25 L337.05,502.85 L329.35,502.85 Z" fill="#fff" stroke="#fff" stroke-width="2.0" stroke-linejoin="round"/>
<path d="M350.07,535.66 L353.92,542.26 L346.22,542.26 Z" fill="#fff" stroke="#fff" stroke-width="2.0" stroke-linejoin="round"/>
<path d="M366.94,538.29 L370.79,544.89 L363.09,544.89 Z" fill="#fff" stroke="#fff" stroke-width="2.0" stroke-linejoin="round"/>
<path d="M383.81,537.88 L387.66,544.48 L379.96,544.48 Z" fill="#fff" stroke="#fff" stroke-width="2.0" stroke-linejoin="round"/>
<path d="M400.68,537.60 L404.53,544.20 L396.83,544.20 Z" fill="#fff" stroke="#fff" stroke-width="2.0" stroke-linejoin="round"/>
<path d="M417.55,535.94 L421.40,542.54 L413.70,542.54 Z" fill="#fff" stroke="#fff" stroke-width="2.0" stroke-linejoin="round"/>
<path d="M451.29,529.55 L455.14,536.15 L447.44,536.15 Z" fill="#fff" stroke="#fff" stroke-width="2.0" stroke-linejoin="round"/>
<path d="M501.90,521.64 L505.75,528.24 L498.05,528.24 Z" fill="#fff" stroke="#fff" stroke-width="2.0" stroke-linejoin="round"/>
<path d="M329.35,517.88 L337.05,517.88 L333.20,524.48 Z" fill="#fff" stroke="#fff" stroke-width="2.0" stroke-linejoin="round"/>
<path d="M346.22,529.95 L353.92,529.95 L350.07,536.55 Z" fill="#fff" stroke="#fff" stroke-width="2.0" stroke-linejoin="round"/>
<path d="M363.09,536.05 L370.79,536.05 L366.94,542.65 Z" fill="#fff" stroke="#fff" stroke-width="2.0" stroke-linejoin="round"/>
<path d="M379.96,536.89 L387.66,536.89 L383.81,543.49 Z" fill="#fff" stroke="#fff" stroke-width="2.0" stroke-linejoin="round"/>
<path d="M396.83,539.80 L404.53,539.80 L400.68,546.40 Z" fill="#fff" stroke="#fff" stroke-width="2.0" stroke-linejoin="round"/>
<path d="M413.70,540.35 L421.40,540.35 L417.55,546.95 Z" fill="#fff" stroke="#fff" stroke-width="2.0" stroke-linejoin="round"/>
<path d="M447.44,537.44 L455.14,537.44 L451.29,544.04 Z" fill="#fff" stroke="#fff" stroke-width="2.0" stroke-linejoin="round"/>
<path d="M498.05,529.12 L505.75,529.12 L501.90,535.72 Z" fill="#fff" stroke="#fff" stroke-width="2.0" stroke-linejoin="round"/>
<path d="M329.90,438.80 L336.50,445.40 M336.50,438.80 L329.90,445.40" stroke="#505050" stroke-width="1.0" fill="none"/>
<path d="M346.77,531.76 L353.37,538.36 M353.37,531.76 L346.77,538.36" stroke="#505050" stroke-width="1.0" fill="none"/>
<path d="M363.64,537.31 L370.24,543.91 M370.24,537.31 L363.64,543.91" stroke="#505050" stroke-width="1.0" fill="none"/>
<path d="M380.51,537.31 L387.11,543.91 M387.11,537.31 L380.51,543.91" stroke="#505050" stroke-width="1.0" fill="none"/>
<path d="M397.38,522.88 L403.98,529.48 M403.98,522.88 L397.38,529.48" stroke="#505050" stroke-width="1.0" fill="none"/>
<path d="M414.25,499.85 L420.85,506.45 M420.85,499.85 L414.25,506.45" stroke="#505050" stroke-width="1.0" fill="none"/>
<path d="M447.99,473.49 L454.59,480.09 M454.59,473.49 L447.99,480.09" stroke="#505050" stroke-width="1.0" fill="none"/>
<path d="M498.60,401.61 L505.20,408.21 M505.20,401.61 L498.60,408.21" stroke="#505050" stroke-width="1.0" fill="none"/>
<circle cx="333.20" cy="321.39" r="3.45" fill="#fff" stroke="#fff" stroke-width="2.6"/>
<circle cx="350.07" cy="536.45" r="3.45" fill="#fff" stroke="#fff" stroke-width="2.6"/>
<circle cx="366.94" cy="540.34" r="3.45" fill="#fff" stroke="#fff" stroke-width="2.6"/>
<circle cx="383.81" cy="540.75" r="3.45" fill="#fff" stroke="#fff" stroke-width="2.6"/>
<circle cx="400.68" cy="534.37" r="3.45" fill="#fff" stroke="#fff" stroke-width="2.6"/>
<circle cx="417.55" cy="516.19" r="3.45" fill="#fff" stroke="#fff" stroke-width="2.6"/>
<circle cx="451.29" cy="467.07" r="3.45" fill="#fff" stroke="#fff" stroke-width="2.6"/>
<circle cx="501.90" cy="394.37" r="3.45" fill="#fff" stroke="#fff" stroke-width="2.6"/>
<circle cx="333.20" cy="321.39" r="3.45" fill="#000"/>
<circle cx="350.07" cy="536.45" r="3.45" fill="#000"/>
<circle cx="366.94" cy="540.34" r="3.45" fill="#000"/>
<circle cx="383.81" cy="540.75" r="3.45" fill="#000"/>
<circle cx="400.68" cy="534.37" r="3.45" fill="#000"/>
<circle cx="417.55" cy="516.19" r="3.45" fill="#000"/>
<circle cx="451.29" cy="467.07" r="3.45" fill="#000"/>
<circle cx="501.90" cy="394.37" r="3.45" fill="#000"/>
<path d="M333.20,496.25 L337.05,502.85 L329.35,502.85 Z" fill="#000"/>
<path d="M350.07,535.66 L353.92,542.26 L346.22,542.26 Z" fill="#000"/>
<path d="M366.94,538.29 L370.79,544.89 L363.09,544.89 Z" fill="#000"/>
<path d="M383.81,537.88 L387.66,544.48 L379.96,544.48 Z" fill="#000"/>
<path d="M400.68,537.60 L404.53,544.20 L396.83,544.20 Z" fill="#000"/>
<path d="M417.55,535.94 L421.40,542.54 L413.70,542.54 Z" fill="#000"/>
<path d="M451.29,529.55 L455.14,536.15 L447.44,536.15 Z" fill="#000"/>
<path d="M501.90,521.64 L505.75,528.24 L498.05,528.24 Z" fill="#000"/>
<path d="M329.35,517.88 L337.05,517.88 L333.20,524.48 Z" fill="#000"/>
<path d="M346.22,529.95 L353.92,529.95 L350.07,536.55 Z" fill="#000"/>
<path d="M363.09,536.05 L370.79,536.05 L366.94,542.65 Z" fill="#000"/>
<path d="M379.96,536.89 L387.66,536.89 L383.81,543.49 Z" fill="#000"/>
<path d="M396.83,539.80 L404.53,539.80 L400.68,546.40 Z" fill="#000"/>
<path d="M413.70,540.35 L421.40,540.35 L417.55,546.95 Z" fill="#000"/>
<path d="M447.44,537.44 L455.14,537.44 L451.29,544.04 Z" fill="#000"/>
<path d="M498.05,529.12 L505.75,529.12 L501.90,535.72 Z" fill="#000"/>
</g>
<text x="385.60" y="333.1" font-size="17.7">CD25</text>
<rect x="431.0" y="319.50" width="7.80" height="1.8" fill="#000"/>
<text x="441.60" y="333.1" font-size="17.7">CD44</text>
<rect x="485.9" y="319.50" width="6.90" height="1.8" fill="#000"/>
<text transform="translate(288.3,517.7) rotate(-90)" font-size="18">Cell Number ( X 10<tspan font-size="13" dy="-10.3">-8</tspan><tspan dy="10.3"> )</tspan></text>
<text x="194.7" y="595.6" font-size="22" textLength="209.5" lengthAdjust="spacingAndGlyphs">Days Post-Irradiation</text>
</svg></body></html>
